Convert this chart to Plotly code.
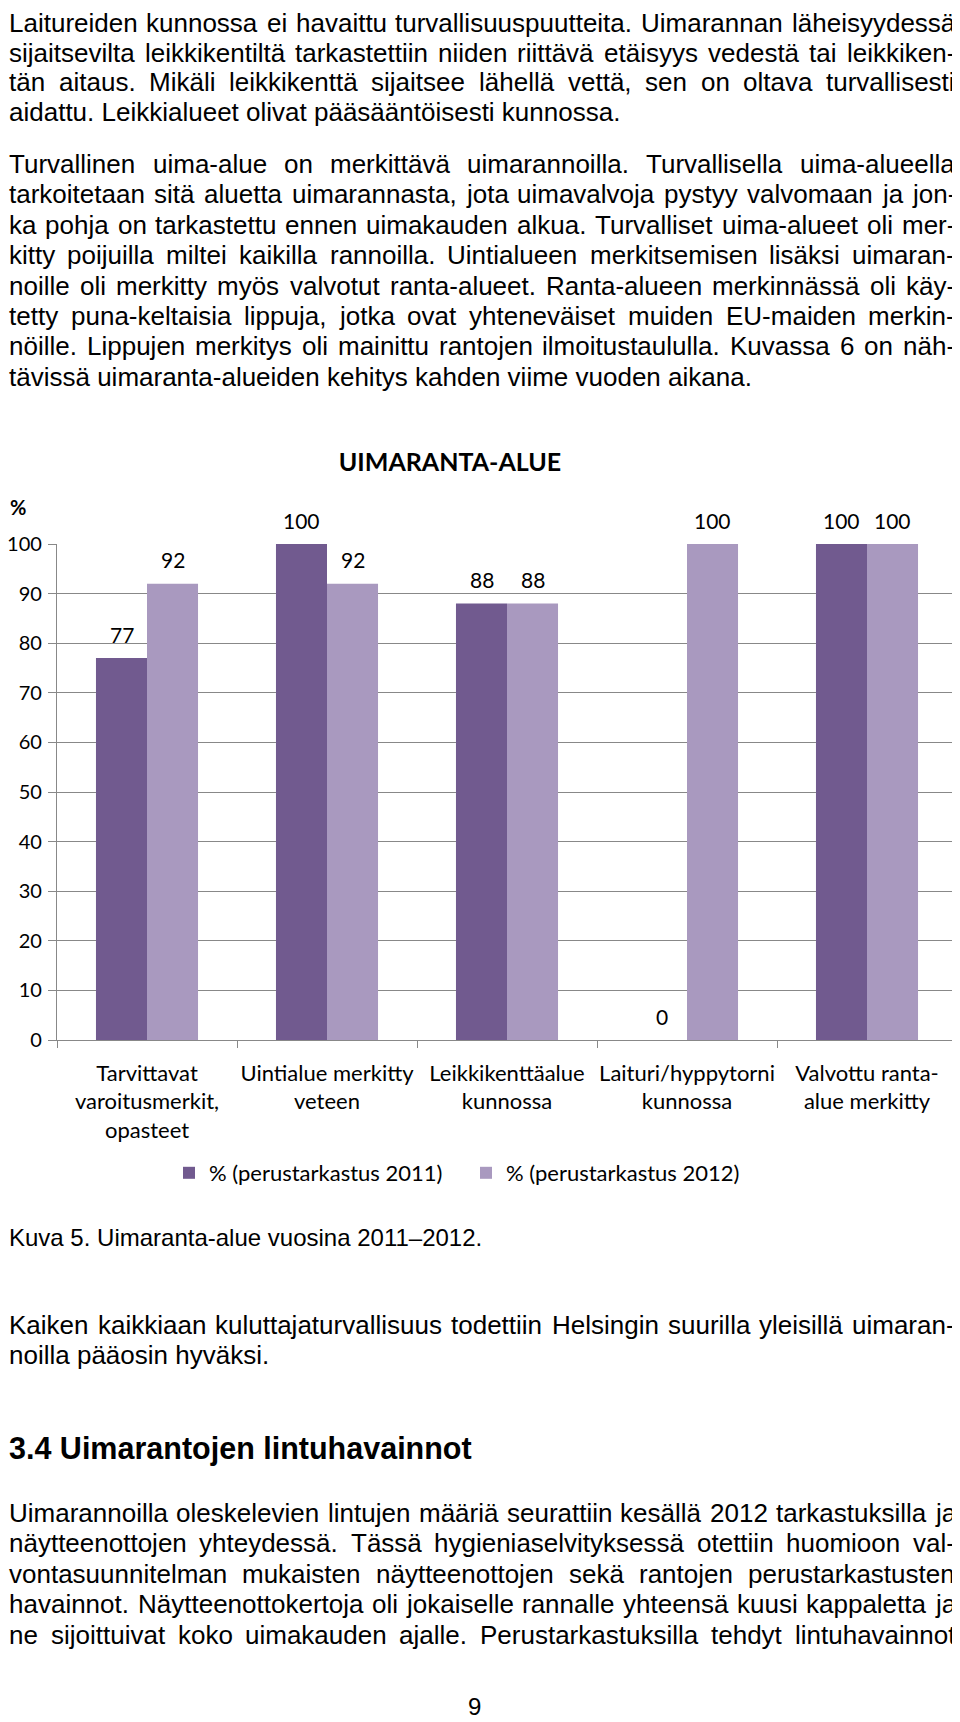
import plotly.graph_objects as go

# ---------------- data ----------------
categories = [
    "Tarvittavat<br>varoitusmerkit,<br>opasteet",
    "Uintialue merkitty<br>veteen",
    "Leikkikenttäalue<br>kunnossa",
    "Laituri/hyppytorni<br>kunnossa",
    "Valvottu ranta-<br>alue merkitty",
]
values_2011 = [77, 100, 88, 0, 100]
values_2012 = [92, 92, 88, 100, 100]
series_names = ["% (perustarkastus 2011)", "% (perustarkastus 2012)"]
y_ticks = [0, 10, 20, 30, 40, 50, 60, 70, 80, 90, 100]
chart_title = "UIMARANTA-ALUE"
y_unit = "%"

para1 = [
    "Laitureiden kunnossa ei havaittu turvallisuuspuutteita. Uimarannan läheisyydessä",
    "sijaitsevilta leikkikentiltä tarkastettiin niiden riittävä etäisyys vedestä tai leikkiken-",
    "tän aitaus. Mikäli leikkikenttä sijaitsee lähellä vettä, sen on oltava turvallisesti",
    "aidattu. Leikkialueet olivat pääsääntöisesti kunnossa.",
]
para2 = [
    "Turvallinen uima-alue on merkittävä uimarannoilla. Turvallisella uima-alueella",
    "tarkoitetaan sitä aluetta uimarannasta, jota uimavalvoja pystyy valvomaan ja jon-",
    "ka pohja on tarkastettu ennen uimakauden alkua. Turvalliset uima-alueet oli mer-",
    "kitty poijuilla miltei kaikilla rannoilla. Uintialueen merkitsemisen lisäksi uimaran-",
    "noille oli merkitty myös valvotut ranta-alueet. Ranta-alueen merkinnässä oli käy-",
    "tetty puna-keltaisia lippuja, jotka ovat yhteneväiset muiden EU-maiden merkin-",
    "nöille. Lippujen merkitys oli mainittu rantojen ilmoitustaululla. Kuvassa 6 on näh-",
    "tävissä uimaranta-alueiden kehitys kahden viime vuoden aikana.",
]
caption = "Kuva 5. Uimaranta-alue vuosina 2011–2012."
para3 = [
    "Kaiken kaikkiaan kuluttajaturvallisuus todettiin Helsingin suurilla yleisillä uimaran-",
    "noilla pääosin hyväksi.",
]
heading = "3.4 Uimarantojen lintuhavainnot"
para4 = [
    "Uimarannoilla oleskelevien lintujen määriä seurattiin kesällä 2012 tarkastuksilla ja",
    "näytteenottojen yhteydessä. Tässä hygieniaselvityksessä otettiin huomioon val-",
    "vontasuunnitelman mukaisten näytteenottojen sekä rantojen perustarkastusten",
    "havainnot. Näytteenottokertoja oli jokaiselle rannalle yhteensä kuusi kappaletta ja",
    "ne sijoittuivat koko uimakauden ajalle. Perustarkastuksilla tehdyt lintuhavainnot",
]
page_number = "9"

# ---------------- layout constants ----------------
# The page body has an 8px margin, so the figure is offset by 8px; all
# positions below are given in page pixels and converted.
OFF = 8
W, H = 960 - OFF, 1722 - OFF
DARK = "#715A8F"
LIGHT = "#A999BF"
GRID = "#888888"
CHART_FONT = "Lato, Carlito, Calibri, sans-serif"
BODY_FONT = "Liberation Sans, Arial, sans-serif"
BODY_SIZE = 26
TEXT_LEFT = 9
TEXT_RIGHT = 955

# Arial / Liberation Sans advance widths (per 1000 em)
AW = {" ": 278, ".": 278, ",": 278, "-": 333, "–": 556, "/": 278, "%": 889,
      "(": 333, ")": 333}
for ch in "0123456789":
    AW[ch] = 556
AW.update(dict(zip("abcdefghijklmnopqrstuvwxyz",
                   [556, 556, 500, 556, 556, 278, 556, 556, 222, 222, 500, 222, 833,
                    556, 556, 556, 556, 333, 500, 278, 556, 500, 722, 500, 500, 500])))
AW.update(dict(zip("ABCDEFGHIJKLMNOPQRSTUVWXYZ",
                   [667, 667, 722, 722, 667, 611, 778, 722, 278, 500, 667, 556, 833,
                    722, 778, 667, 778, 722, 667, 611, 722, 667, 944, 667, 667, 611])))
AW.update({"ä": 556, "ö": 556, "å": 556, "Ä": 667, "Ö": 778})


def text_width(s, size):
    return sum(AW.get(c, 556) for c in s) * size / 1000.0


def px(x):
    return (x - OFF) / W


def py(y):
    return 1 - (y - OFF) / H


annotations = []


def add_line(text, y, size=BODY_SIZE, justify=False, bold=False, x0=TEXT_LEFT):
    font = dict(family=BODY_FONT, size=size, color="black")
    if not justify or bold:
        annotations.append(dict(text=("<b>" + text + "</b>") if bold else text,
                                x=px(x0), y=py(y), xref="paper", yref="paper",
                                xanchor="left", yanchor="middle", showarrow=False,
                                font=font, xshift=-2))
        return
    words = text.split(" ")
    widths = [text_width(w, size) for w in words]
    gap = (TEXT_RIGHT - x0 - sum(widths)) / max(len(words) - 1, 1)
    x = x0
    for w, wd in zip(words, widths):
        annotations.append(dict(text=w, x=px(x), y=py(y), xref="paper", yref="paper",
                                xanchor="left", yanchor="middle", showarrow=False,
                                font=font, xshift=-2))
        x += wd + gap


def add_paragraph(lines, ys, last_justified=False):
    for i, (line, y) in enumerate(zip(lines, ys)):
        is_last = i == len(lines) - 1
        add_line(line, y, justify=(not is_last) or last_justified)


SP = 30.4
add_paragraph(para1, [23 + i * 29.6 for i in range(len(para1))])
add_paragraph(para2, [164 + i * SP for i in range(len(para2))])
add_line(caption, 1237, size=24)
add_paragraph(para3, [1325 + i * SP for i in range(len(para3))])
add_line(heading, 1448, size=30.5, bold=True)
add_paragraph(para4, [1513 + i * SP for i in range(len(para4))], last_justified=True)
annotations.append(dict(text=page_number, x=px(474), y=py(1706), xref="paper",
                        yref="paper", xanchor="center", yanchor="middle",
                        showarrow=False, font=dict(family=BODY_FONT, size=24,
                                                   color="black")))

# ---------------- chart ----------------
fig = go.Figure()
fig.add_trace(go.Bar(x=categories, y=values_2011, name=series_names[0],
                     marker=dict(color=DARK, line=dict(width=0))))
fig.add_trace(go.Bar(x=categories, y=values_2012, name=series_names[1],
                     marker=dict(color=LIGHT, line=dict(width=0))))

# data labels
for vals, shift in ((values_2011, -25.5), (values_2012, 25.5)):
    for cat, v in zip(categories, vals):
        annotations.append(dict(text=str(v), x=cat, y=v, xref="x", yref="y",
                                xshift=shift, yshift=24, xanchor="center",
                                yanchor="middle", showarrow=False,
                                font=dict(family=CHART_FONT, size=21, color="black")))

# "%" unit label
annotations.append(dict(text="<b>" + y_unit + "</b>", x=px(18), y=py(507),
                        xref="paper", yref="paper", xanchor="center", yanchor="middle",
                        showarrow=False, font=dict(family=CHART_FONT, size=20,
                                                   color="black")))

fig.update_layout(
    width=W, height=H, autosize=False,
    margin=dict(l=0, r=0, t=0, b=0, pad=0, autoexpand=False),
    paper_bgcolor="white", plot_bgcolor="white",
    barmode="group", bargap=0.433, bargroupgap=0,
    title=dict(text="<b>" + chart_title + "</b>", x=px(450), xanchor="center",
               y=py(462), yanchor="middle", automargin=False,
               font=dict(family=CHART_FONT, size=25, color="black")),
    xaxis=dict(domain=[px(57), px(957)], type="category", tickson="boundaries",
               ticks="outside", ticklen=7, tickcolor=GRID, tickwidth=1.3,
               showline=True, linecolor=GRID, linewidth=1.3, showgrid=False,
               tickangle=0, automargin=False,
               tickfont=dict(family=CHART_FONT, size=22, color="black"),
               ticklabelstandoff=13),
    yaxis=dict(domain=[py(1040), py(544)], range=[0, 100],
               tickvals=y_ticks, ticks="outside", ticklen=8, tickcolor=GRID,
               tickwidth=1.3, showline=True, linecolor=GRID, linewidth=1.3,
               showgrid=True, gridcolor=GRID, gridwidth=1.3, zeroline=False,
               automargin=False,
               tickfont=dict(family=CHART_FONT, size=20, color="black"),
               ticklabelstandoff=2),
    legend=dict(orientation="h", x=px(169), xanchor="left", y=py(1173),
                yanchor="middle", font=dict(family=CHART_FONT, size=22,
                                            color="black"),
                entrywidth=252, entrywidthmode="pixels", bgcolor="rgba(0,0,0,0)"),
    annotations=annotations,
)

fig.write_html("out.html")
